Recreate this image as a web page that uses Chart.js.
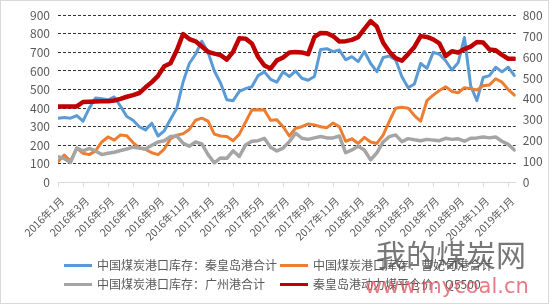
<!DOCTYPE html>
<html>
<head>
<meta charset="utf-8">
<script src="https://cdn.jsdelivr.net/npm/chart.js@4"></script>
<style>
html,body{margin:0;padding:0;background:#fff;}
#wrap{position:relative;width:552px;height:305px;overflow:hidden;font-family:"Noto Sans CJK SC","Liberation Sans",sans-serif;}
#frame{position:absolute;left:0;top:0;width:547px;height:302px;border:1px solid #D9D9D9;pointer-events:none;}
canvas{position:absolute;left:0;top:0;}
.lg{position:absolute;font-size:12px;color:#595959;white-space:nowrap;line-height:14px;}
.sw{position:absolute;height:3px;width:28px;}
.wm1{position:absolute;left:376px;top:238px;font-size:30px;line-height:30px;color:rgba(85,85,85,0.8);white-space:nowrap;font-family:"Noto Sans CJK SC",sans-serif;}
.wm2{position:absolute;left:365px;top:274px;font-size:21px;line-height:24px;color:rgba(220,80,90,0.75);white-space:nowrap;font-family:"DejaVu Sans",sans-serif;}
</style>
</head>
<body>
<div id="wrap">
<canvas id="c" width="552" height="305"></canvas>
<div id="legend"></div>
<div class="wm1">我的煤炭网</div>
<div class="wm2">www.mycoal.cn</div>
<div id="frame"></div>
</div>
<script>
// ---- data ----
const dates = [
'2016-01-01','2016-01-16','2016-02-01','2016-02-16','2016-03-01','2016-03-16','2016-04-01','2016-04-16','2016-05-01','2016-05-16','2016-06-01','2016-06-16',
'2016-07-01','2016-07-16','2016-08-01','2016-08-16','2016-09-01','2016-09-16','2016-10-01','2016-10-16','2016-11-01','2016-11-16','2016-12-01','2016-12-16',
'2017-01-01','2017-01-16','2017-02-01','2017-02-16','2017-03-01','2017-03-16','2017-04-01','2017-04-16','2017-05-01','2017-05-16','2017-06-01','2017-06-16',
'2017-07-01','2017-07-16','2017-08-01','2017-08-16','2017-09-01','2017-09-16','2017-10-01','2017-10-16','2017-11-01','2017-11-16','2017-12-01','2017-12-16',
'2018-01-01','2018-01-16','2018-02-01','2018-02-16','2018-03-01','2018-03-16','2018-04-01','2018-04-16','2018-05-01','2018-05-16','2018-06-01','2018-06-16',
'2018-07-01','2018-07-16','2018-08-01','2018-08-16','2018-09-01','2018-09-16','2018-10-01','2018-10-16','2018-11-01','2018-11-16','2018-12-01','2018-12-16',
'2019-01-01','2019-01-16'
];
const seriesNames = [
  '中国煤炭港口库存：秦皇岛港合计',
  '中国煤炭港口库存：曹妃甸港合计',
  '中国煤炭港口库存：广州港合计',
  '秦皇岛港动力煤平仓价：Q5500'
];
const qhdStock = [345,350,346,360,330,400,455,450,445,460,410,355,335,300,283,319,250,278,340,400,
  540,640,690,760,700,600,535,445,440,490,505,515,575,595,555,540,595,570,600,561,
  550,570,715,720,704,713,660,677,650,705,640,596,672,680,660,569,510,530,640,614,
  700,690,655,605,645,780,520,440,565,575,620,595,620,575];
const cfdStock = [112,148,115,185,157,150,170,218,245,228,256,252,215,186,178,160,150,180,235,255,
  262,285,335,346,330,260,250,247,225,260,325,390,392,390,335,337,300,250,292,300,
  315,310,300,295,320,300,222,235,210,243,218,210,255,330,400,405,400,360,330,440,
  470,495,515,490,483,510,505,498,520,525,558,540,500,470];
const gzStock = [139,128,108,185,170,183,170,150,157,163,172,180,190,186,180,200,218,225,247,250,
  212,195,218,208,150,106,132,130,170,140,202,222,225,238,190,170,185,220,265,238,
  232,240,247,240,240,250,160,175,195,175,122,160,218,247,256,220,236,230,225,232,
  228,225,238,232,235,222,238,240,245,240,245,222,205,175];
const q5500Price = [364,364,364,364,385,386,387,388,389,392,400,410,418,428,455,480,510,556,570,632,
  710,686,675,650,625,616,609,588,625,690,688,665,600,560,545,584,598,622,624,622,
  614,695,715,714,700,674,676,682,695,735,772,745,668,625,595,582,614,648,700,696,
  684,665,605,628,622,638,650,672,669,636,632,610,592,592];
const xTickDates = ['2016-01-01','2016-03-01','2016-05-01','2016-07-01','2016-09-01','2016-11-01',
  '2017-01-01','2017-03-01','2017-05-01','2017-07-01','2017-09-01','2017-11-01',
  '2018-01-01','2018-03-01','2018-05-01','2018-07-01','2018-09-01','2018-11-01','2019-01-01'];
const leftTicks = {min:0, max:900, step:100};
const rightTicks = {min:0, max:800, step:100};
const axisEndDate = '2019-01-19';
const colors = ['#5B9BD5','#ED7D31','#A5A5A5','#C00000'];

// ---- helpers ----
const toMonth = s => { const [y,m,d] = s.split('-').map(Number); return (y-2016)*12 + (m-1) + (d-1)/30; };
const xs = dates.map(toMonth);
const pts = arr => arr.map((v,i)=>({x:xs[i], y:v}));
const FONT = '"Noto Sans CJK SC","Liberation Sans",sans-serif';
const monthLabel = v => { const r = Math.round(v); const y = 2016 + Math.floor(r/12); const m = (r % 12) + 1; return y + '年' + m + '月'; };

const seriesData = [qhdStock, cfdStock, gzStock, q5500Price];
const widths = [3, 3, 3.5, 4.5];
const orders = [3, 2, 1, 0];
const axes = ['y', 'y', 'y', 'y1'];

new Chart(document.getElementById('c'), {
  type: 'line',
  data: {
    datasets: seriesData.map((arr, i) => ({
      label: seriesNames[i],
      data: pts(arr),
      borderColor: colors[i],
      backgroundColor: colors[i],
      borderWidth: widths[i],
      pointRadius: 0,
      tension: 0,
      fill: false,
      order: orders[i],
      yAxisID: axes[i],
      borderJoinStyle: 'round',
      borderCapStyle: 'round'
    }))
  },
  options: {
    responsive: false,
    devicePixelRatio: 1,
    animation: false,
    events: [],
    layout: { padding: { top: 15, left: 0, right: 0, bottom: 0 } },
    plugins: { legend: { display: false }, tooltip: { enabled: false } },
    scales: {
      x: {
        type: 'linear',
        min: 0,
        max: toMonth(axisEndDate),
        afterBuildTicks: s => { s.ticks = xTickDates.map(d => ({ value: toMonth(d) })); },
        afterFit: s => { s.height = 305 - 182.5; },
        ticks: {
          autoSkip: false, minRotation: 45, maxRotation: 45,
          color: '#595959', font: { size: 10.5, family: FONT }, padding: 8, labelOffset: 4,
          callback: v => monthLabel(v)
        },
        grid: { display: true, drawOnChartArea: false, drawTicks: true, tickLength: 4, color: '#D9D9D9' },
        border: { display: true, color: '#D9D9D9' }
      },
      y: {
        position: 'left',
        min: leftTicks.min, max: leftTicks.max,
        afterFit: s => { s.width = 58; },
        ticks: { stepSize: leftTicks.step, color: '#595959', font: { size: 12, family: FONT }, padding: 8 },
        grid: { drawTicks: false, lineWidth: 1, color: c => c.tick && c.tick.value === 0 ? 'rgba(0,0,0,0)' : '#333333', borderDash: [3, 2] },
        border: { display: false, dash: [3, 2] }
      },
      y1: {
        position: 'right',
        min: rightTicks.min, max: rightTicks.max,
        afterFit: s => { s.width = 36.3; },
        ticks: { stepSize: rightTicks.step, color: '#595959', font: { size: 12, family: FONT }, padding: 7 },
        grid: { display: false, drawTicks: false },
        border: { display: false }
      }
    }
  }
});

// ---- legend (HTML) ----
const lg = document.getElementById('legend');
const legendPos = [[64, 265], [280, 265], [64, 284], [280, 284]];
seriesNames.forEach((name, i) => {
  const [lx, ly] = legendPos[i];
  const sw = document.createElement('div');
  sw.className = 'sw';
  sw.style.left = lx + 'px';
  sw.style.top = (ly - 1.5) + 'px';
  sw.style.background = colors[i];
  lg.appendChild(sw);
  const t = document.createElement('div');
  t.className = 'lg';
  t.style.left = (lx + 33) + 'px';
  t.style.top = (ly - 7) + 'px';
  t.textContent = name;
  lg.appendChild(t);
});
</script>
</body>
</html>
